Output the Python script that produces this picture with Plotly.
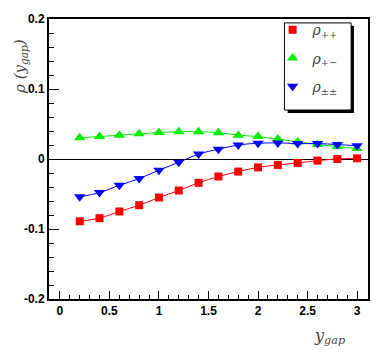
import plotly.graph_objects as go

# y_gap values
ygap = [0.2, 0.4, 0.6, 0.8, 1.0, 1.2, 1.4, 1.6, 1.8, 2.0, 2.2, 2.4, 2.6, 2.8, 3.0]

# correlation estimates
rho_pp = [-0.089, -0.0845, -0.075, -0.066, -0.055, -0.045, -0.034, -0.025,
          -0.018, -0.012, -0.0085, -0.0056, -0.0023, 0.0, 0.001]
rho_pm = [0.0305, 0.032, 0.034, 0.036, 0.038, 0.039, 0.039, 0.0376,
          0.034, 0.032, 0.0286, 0.0244, 0.0207, 0.0178, 0.015]
rho_all = [-0.054, -0.048, -0.0376, -0.028, -0.016, -0.0047, 0.007, 0.014,
           0.020, 0.0225, 0.023, 0.022, 0.022, 0.0207, 0.0188]

series = [
    ("<i>ρ</i><sub>++</sub>", rho_pp, "#ff0000", "square", 8),
    ("<i>ρ</i><sub>+−</sub>", rho_pm, "#00ee00", "triangle-up", 10),
    ("<i>ρ</i><sub>±±</sub>", rho_all, "#0000ff", "triangle-down", 10),
]

fig = go.Figure()
for i, (name, vals, col, sym, sz) in enumerate(series):
    # smooth connecting curve
    fig.add_trace(go.Scatter(
        x=ygap, y=vals, mode="lines", line=dict(color=col, width=1, shape="spline"),
        showlegend=False, hoverinfo="skip"))
    fig.add_trace(go.Scatter(
        x=ygap, y=vals, mode="markers", name=name, legendgroup=str(i),
        marker=dict(color=col, symbol=sym, size=sz, line=dict(width=0))))

axis_font = dict(family="Liberation Sans", size=12, color="black")

fig.update_layout(
    width=382, height=354,
    margin=dict(l=49, r=12, t=13, b=55),
    paper_bgcolor="white", plot_bgcolor="white",
    font=dict(family="Liberation Sans"),
    showlegend=True,
    legend=dict(
        x=0.701, y=1.017, xanchor="left", yanchor="top",
        bgcolor="rgba(0,0,0,0)", borderwidth=0,
        font=dict(family="DejaVu Serif", size=14, color="#444"),
        tracegroupgap=7, itemwidth=30,
    ),
    xaxis=dict(
        range=[-0.11, 3.11], tickvals=[0, 0.5, 1, 1.5, 2, 2.5, 3],
        ticktext=["<b>0</b>", "<b>0.5</b>", "<b>1</b>", "<b>1.5</b>", "<b>2</b>", "<b>2.5</b>", "<b>3</b>"],
        ticks="inside", ticklen=8, tickwidth=1, tickcolor="black",
        minor=dict(dtick=0.1, ticks="inside", ticklen=4, tickcolor="black", showgrid=False),
        showline=True, linecolor="black", linewidth=2, mirror=True,
        showgrid=False, zeroline=False, tickfont=axis_font,
    ),
    yaxis=dict(
        range=[-0.2, 0.2], tickvals=[-0.2, -0.1, 0, 0.1, 0.2],
        ticktext=["<b>-0.2</b>", "<b>-0.1</b>", "<b>0</b>", "<b>0.1</b>", "<b>0.2</b>"],
        ticks="inside", ticklen=10, tickwidth=1, tickcolor="black",
        minor=dict(dtick=0.02, ticks="inside", ticklen=5, tickcolor="black", showgrid=False),
        showline=True, linecolor="black", linewidth=2, mirror=True,
        showgrid=False, zeroline=True, zerolinecolor="black", zerolinewidth=1,
        tickfont=axis_font,
    ),
)

# legend frame with drop shadow
fig.add_shape(type="rect", xref="paper", yref="paper", layer="above",
              x0=0.748, x1=0.956, y0=0.664, y1=0.976,
              fillcolor="black", line=dict(width=0))
fig.add_shape(type="rect", xref="paper", yref="paper", layer="above",
              x0=0.738, x1=0.947, y0=0.675, y1=0.986,
              fillcolor="white", line=dict(color="black", width=1))

fig.add_annotation(
    text="<i>ρ (y<sub>gap</sub>)</i>", xref="paper", yref="paper",
    x=-0.09, y=0.83, textangle=-90, showarrow=False,
    xanchor="center", yanchor="middle",
    font=dict(family="DejaVu Serif", size=15, color="#444"))
fig.add_annotation(
    text="<i>y<sub>gap</sub></i>", xref="paper", yref="paper",
    x=0.88, y=-0.133, showarrow=False, xanchor="center", yanchor="middle",
    font=dict(family="DejaVu Serif", size=16, color="#444"))

fig.write_html("out.html", config={"displayModeBar": False},
               post_script="document.body.style.margin='0';")
